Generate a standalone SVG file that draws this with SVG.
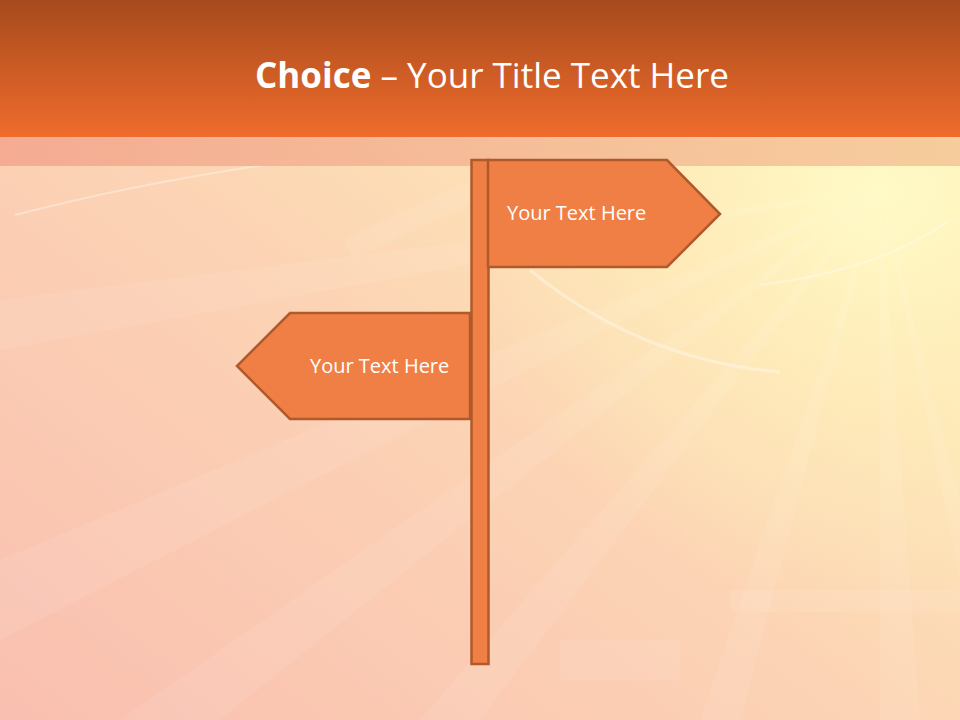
<svg xmlns="http://www.w3.org/2000/svg" width="960" height="720" viewBox="0 0 960 720">
  <defs>
    <linearGradient id="bg" x1="0" y1="1" x2="1" y2="0">
      <stop offset="0" stop-color="#F9BFB0"/>
      <stop offset="0.45" stop-color="#FCD3B4"/>
      <stop offset="0.8" stop-color="#FEEBB8"/>
      <stop offset="1" stop-color="#FFF6BE"/>
    </linearGradient>
    <radialGradient id="sun" cx="880" cy="190" r="420" gradientUnits="userSpaceOnUse">
      <stop offset="0" stop-color="#FFFBC8" stop-opacity="0.95"/>
      <stop offset="0.5" stop-color="#FFF2BC" stop-opacity="0.5"/>
      <stop offset="1" stop-color="#FFF2BC" stop-opacity="0"/>
    </radialGradient>
    <linearGradient id="hdr" x1="0" y1="0" x2="0" y2="1">
      <stop offset="0" stop-color="#A64A1D"/>
      <stop offset="1" stop-color="#F06C2C"/>
    </linearGradient>
    <linearGradient id="band" x1="0" y1="0" x2="1" y2="0">
      <stop offset="0" stop-color="#F3A58C"/>
      <stop offset="0.5" stop-color="#F4B693"/>
      <stop offset="1" stop-color="#F5C596"/>
    </linearGradient>
    <style>
      .sign { fill: #F07F45; stroke: #B0592A; stroke-width: 2.5; stroke-linejoin: miter; }
      .lbl { font-family: "Open Sans", "Liberation Sans", sans-serif; font-size: 20px; fill: #FFFFFF; }
      .title { font-family: "Open Sans", "Liberation Sans", sans-serif; font-size: 35px; fill: #FFFFFF; }
      .ray { fill: #FFFFFF; opacity: 0.08; }
      .arc { fill: none; stroke: #FFFFFF; opacity: 0.35; }
    </style>
  </defs>

  <!-- background -->
  <rect x="0" y="0" width="960" height="720" fill="url(#bg)"/>
  <rect x="0" y="0" width="960" height="720" fill="url(#sun)"/>
  <g id="rays">
    <polygon class="ray" points="880,190 0,560 0,640"/>
    <polygon class="ray" points="880,190 120,720 220,720"/>
    <polygon class="ray" points="880,190 420,720 480,720"/>
    <polygon class="ray" points="880,190 700,720 740,720"/>
    <polygon class="ray" points="880,190 880,720 920,720"/>
    <polygon class="ray" points="880,190 0,300 0,350"/>
    <polygon class="ray" points="880,190 960,500 960,580"/>
    <rect class="ray" x="340" y="200" width="180" height="22" transform="rotate(-25 430 211)"/>
    <rect class="ray" x="730" y="590" width="230" height="22"/>
    <rect class="ray" x="560" y="640" width="120" height="40"/>
  </g>
  <path class="arc" d="M 530 270 Q 640 360 780 372" stroke-width="3"/>
  <path class="arc" d="M 760 285 Q 880 270 950 220" stroke-width="2"/>
  <path class="arc" d="M 15 215 Q 150 180 300 160" stroke-width="2"/>

  <!-- header -->
  <rect x="0" y="0" width="960" height="137" fill="url(#hdr)"/>
  <rect x="0" y="137" width="960" height="29" fill="url(#band)" opacity="0.85"/>

  <g id="title">
    <text class="title" x="492" y="88" text-anchor="middle"><tspan font-weight="bold">Choice</tspan> – Your Title Text Here</text>
  </g>

  <g id="post">
    <rect class="sign" x="471.5" y="160" width="17" height="504"/>
  </g>
  <g id="sign-right">
    <polygon class="sign" points="488,160 667,160 720,214 667,267 488,267"/>
    <text class="lbl" x="507" y="220">Your Text Here</text>
  </g>
  <g id="sign-left">
    <polygon class="sign" points="470,313 290,313 237,366 290,419 470,419"/>
    <text class="lbl" x="310" y="373">Your Text Here</text>
  </g>
</svg>
